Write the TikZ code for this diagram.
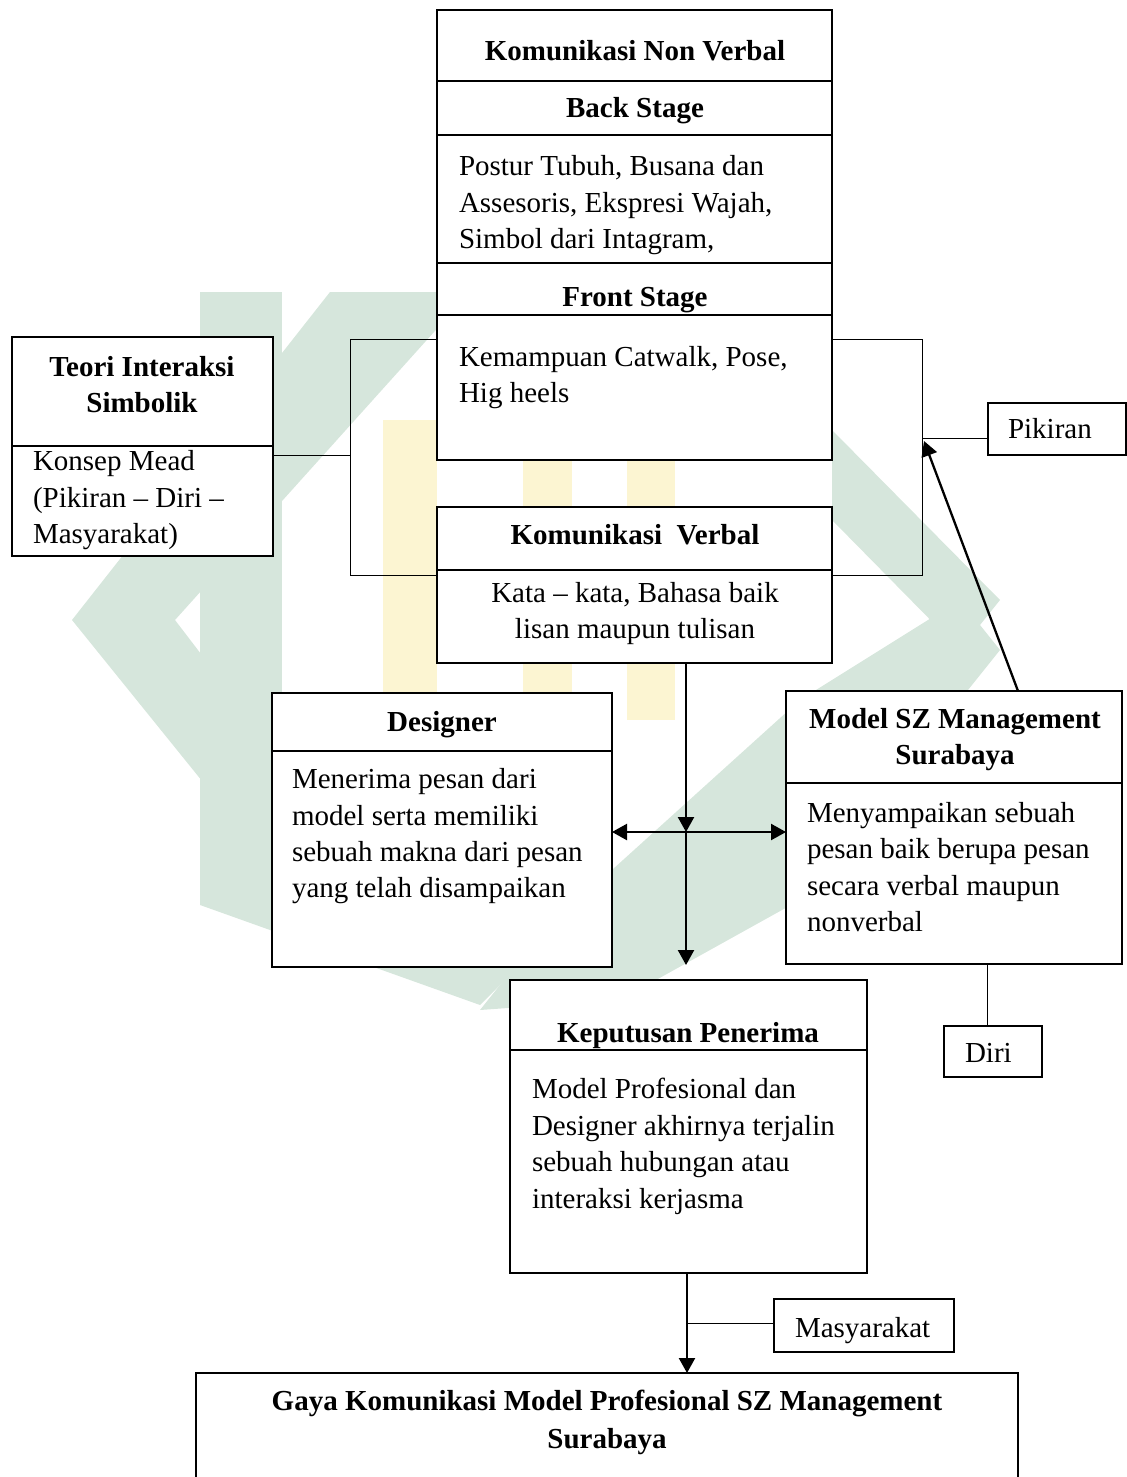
\documentclass[tikz,border=0pt]{standalone}
\usepackage{fontspec}
\setmainfont{Liberation Serif}
\usetikzlibrary{arrows.meta,fit,calc}
\definecolor{wmg}{HTML}{D6E6DC}
\definecolor{wmy}{HTML}{FCF5D2}
\begin{document}
\begin{tikzpicture}[x=0.5pt,y=-0.5pt,
  every node/.style={font=\fontsize{14.5}{18.25}\selectfont, inner sep=0pt, outer sep=0pt},
  heavybox/.style={draw, line width=1.35pt, fill=white, inner sep=0pt},
  lightbox/.style={draw, line width=0.65pt, fill=white, inner sep=0pt},
  smallbox/.style={draw, line width=0.55pt, fill=white, inner sep=0pt},
  divline/.style={line width=0.6pt},
  link/.style={line width=0.5pt},
  tip/.style={Triangle[length=7.5pt,width=8pt]},
  flow/.style={line width=1.15pt, -{Triangle[length=7.5pt,width=8pt]}},
  twoway/.style={line width=1.15pt, {Triangle[length=7.5pt,width=8pt]}-{Triangle[length=7.5pt,width=8pt]}},
  title/.style={font=\fontsize{14.5}{18.25}\selectfont\bfseries, anchor=base},
  body/.style={anchor=base west},
  bodyc/.style={anchor=base},
  wmgreen/.style={fill=wmg, draw=none},
  wmyellow/.style={fill=wmy, draw=none}]

\path[use as bounding box] (0,0) rectangle (1127,1477);
\clip (0,0) rectangle (1127,1477);

% ---------- watermark (background) ----------
\fill[wmgreen] (330,292) -- (470,292) -- (175,620) -- (282,760) -- (282,880) -- (72,620) -- cycle;
\fill[wmgreen] (200,292) -- (282,292) -- (282,905) -- (200,905) -- cycle;
\fill[wmgreen] (200,860) -- (282,860) -- (520,965) -- (480,1005) -- (200,905) -- cycle;
\fill[wmgreen] (480,1010) -- (540,935) -- (800,700) -- (960,600) -- (1000,650) -- (800,900) -- (620,1000) -- cycle;
\fill[wmgreen] (832,430) -- (1000,600) -- (960,650) -- (832,520) -- cycle;
\fill[wmyellow] (383,420) rectangle (437,700);
\fill[wmyellow] (523,440) rectangle (572,720);
\fill[wmyellow] (627,440) rectangle (675,720);

% ---------- boxes ----------
\node[heavybox, fit={(437,10) (832,460)}] (nv) {};
\node[heavybox, fit={(12,337) (273,556)}] (tb) {};
\node[heavybox, fit={(437,507) (832,663)}] (vb) {};
\node[lightbox, fit={(272,693) (612,967)}] (db) {};
\node[lightbox, fit={(786,691) (1122,964)}] (mb) {};
\node[heavybox, fit={(510,980) (867,1273)}] (kb) {};
\node[heavybox, fit={(196,1373) (1018,1520)}] (gb) {};
\node[smallbox, fit={(988,403) (1126,455)}] (pik) {};
\node[smallbox, fit={(944,1026) (1042,1077)}] (diri) {};
\node[smallbox, fit={(774,1299) (954,1352)}] (masy) {};

% dividers
\draw[divline] (437,81) -- (832,81);
\draw[divline] (437,135) -- (832,135);
\draw[divline] (437,263) -- (832,263);
\draw[divline] (437,315) -- (832,315);
\draw[divline] (12,446) -- (273,446);
\draw[divline] (437,570) -- (832,570);
\draw[divline] (272,751) -- (612,751);
\draw[divline] (786,783) -- (1122,783);
\draw[divline] (510,1050) -- (867,1050);

% ---------- texts ----------
\node[title] (nvt) at (635,61) {Komunikasi Non Verbal};
\node[title] (bst) at (635,118) {Back Stage};
\node[body] (bs1) at (459,176) {Postur Tubuh, Busana dan};
\node[body] (bs2) at (459,212) {Assesoris, Ekspresi Wajah,};
\node[body] (bs3) at (459,248) {Simbol dari Intagram,};
\node[title] (fst) at (635,306) {Front Stage};
\node[body] (fs1) at (459,366) {Kemampuan Catwalk, Pose,};
\node[body] (fs2) at (459,402) {Hig heels};

\node[title] (tbt1) at (142,376) {Teori Interaksi};
\node[title] (tbt2) at (142,412) {Simbolik};
\node[body] (tb1) at (33,470) {Konsep Mead};
\node[body] (tb2) at (33,507) {(Pikiran – Diri –};
\node[body] (tb3) at (33,543) {Masyarakat)};

\node[title] (vbt) at (635,544) {Komunikasi\ \ Verbal};
\node[bodyc] (vb1) at (635,602) {Kata – kata, Bahasa baik};
\node[bodyc] (vb2) at (635,638) {lisan maupun tulisan};

\node[title] (dbt) at (442,731) {Designer};
\node[body] (db1) at (292,788) {Menerima pesan dari};
\node[body] (db2) at (292,825) {model serta memiliki};
\node[body] (db3) at (292,861) {sebuah makna dari pesan};
\node[body] (db4) at (292,897) {yang telah disampaikan};

\node[title] (mbt1) at (955,728) {Model SZ Management};
\node[title] (mbt2) at (955,764) {Surabaya};
\node[body] (mb1) at (807,822) {Menyampaikan sebuah};
\node[body] (mb2) at (807,858) {pesan baik berupa pesan};
\node[body] (mb3) at (807,895) {secara verbal maupun};
\node[body] (mb4) at (807,931) {nonverbal};

\node[title] (kbt) at (688,1042) {Keputusan Penerima};
\node[body] (kb1) at (532,1098) {Model Profesional dan};
\node[body] (kb2) at (532,1135) {Designer akhirnya terjalin};
\node[body] (kb3) at (532,1171) {sebuah hubungan atau};
\node[body] (kb4) at (532,1208) {interaksi kerjasma};

\node[title] (gbt1) at (607,1410) {Gaya Komunikasi Model Profesional SZ Management};
\node[title] (gbt2) at (607,1448) {Surabaya};

\node[body] (pikt) at (1008,438) {Pikiran};
\node[body] (dirit) at (965,1062) {Diri};
\node[body] (masyt) at (795,1337) {Masyarakat};

% ---------- connectors ----------
\coordinate (lt) at (350,339);
\coordinate (lm) at (350,455);
\coordinate (lb) at (350,575);
\draw[link] (nv.west |- lt) -- (lt) -- (lb) -- (vb.west |- lb);
\draw[link] (tb.east |- lm) -- (lm);

\coordinate (rt) at (922,339);
\coordinate (rm) at (922,438);
\coordinate (rb) at (922,575);
\draw[link] (nv.east |- rt) -- (rt) -- (rb) -- (vb.east |- rb);
\draw[link] (rm) -- (pik.west |- rm);

\coordinate (mtop) at (1018,691);
\coordinate (rtip) at (924,441);
\draw[flow] (mb.north -| mtop) -- (rtip);

\coordinate (vx) at (686,832);
\coordinate (vend) at (686,965);
\draw[flow] (vb.south -| vx) -- (vx);
\draw[flow] (vx) -- (vend);
\draw[twoway] (db.east |- vx) -- (mb.west |- vx);

\coordinate (dx) at (987,0);
\draw[link] (mb.south -| dx) -- (diri.north -| dx);

\coordinate (kx) at (687,0);
\draw[flow] (kb.south -| kx) -- (gb.north -| kx);
\coordinate (my) at (0,1323);
\draw[link] (masy.west |- my) -- (kx |- my);
\end{tikzpicture}
\end{document}
